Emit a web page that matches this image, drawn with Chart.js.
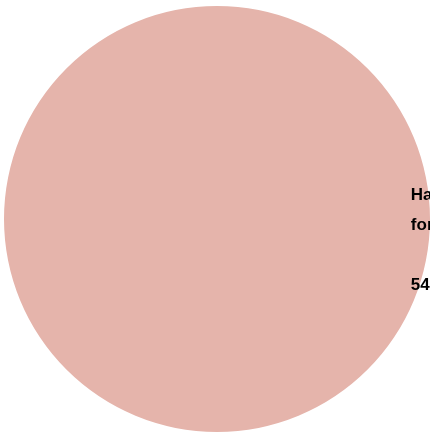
<!DOCTYPE html>
<html>
<head>
<meta charset="utf-8">
<script src="https://cdn.jsdelivr.net/npm/chart.js@4/dist/chart.umd.min.js"></script>
<style>
  html, body { margin: 0; padding: 0; background: #ffffff; }
  #wrap { width: 430px; height: 433px; position: relative; }
</style>
</head>
<body>
<div id="wrap"><canvas id="c"></canvas></div>
<script>
const categories = ["Have a plan for retirement"];
const labelLines = [["Have a plan", "for retirement", "", "54%"]];
const values = [54];
const colors = ["#E5B4AB"];

const labelPlugin = {
  id: 'sliceLabels',
  afterDatasetsDraw(chart) {
    const ctx = chart.ctx;
    const meta = chart.getDatasetMeta(0);
    meta.data.forEach((arc, i) => {
      const p = arc.getProps(['x', 'y', 'outerRadius'], true);
      const lines = labelLines[i];
      const lh = 30;
      const x = p.x + p.outerRadius * 0.91;
      const y0 = p.y - 19;
      ctx.save();
      ctx.fillStyle = '#000000';
      ctx.font = 'bold 17px "Liberation Sans", Arial, Helvetica, sans-serif';
      ctx.textAlign = 'left';
      ctx.textBaseline = 'alphabetic';
      lines.forEach((t, k) => ctx.fillText(t, x, y0 + k * lh));
      ctx.restore();
    });
  }
};

new Chart(document.getElementById('c'), {
  type: 'pie',
  data: {
    labels: categories,
    datasets: [{
      data: values,
      backgroundColor: colors,
      borderWidth: 0
    }]
  },
  options: {
    responsive: true,
    maintainAspectRatio: false,
    animation: false,
    layout: { padding: { top: 6, bottom: 1, left: 4, right: 0 } },
    plugins: {
      legend: { display: false },
      tooltip: { enabled: false }
    }
  },
  plugins: [labelPlugin]
});
</script>
</body>
</html>
